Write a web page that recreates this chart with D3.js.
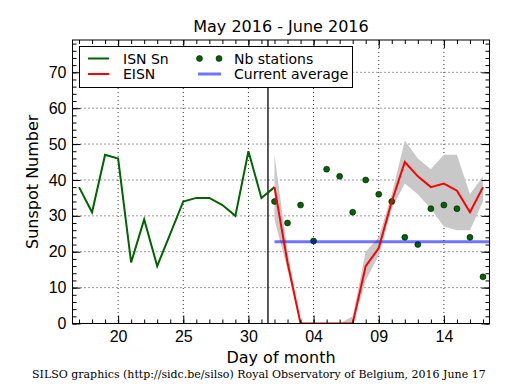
<!DOCTYPE html>
<html>
<head>
<meta charset="utf-8">
<script src="https://cdn.jsdelivr.net/npm/d3@7"></script>
<style>
  body { margin: 0; background: #fff; }
  svg { display: block; font-family: "DejaVu Sans", sans-serif; }
</style>
</head>
<body>
<svg id="chart" width="515" height="390"></svg>
<script>
// Day numbers: May = 1..31, June = 31 + day
const isnDays = [17, 18, 19, 20, 21, 22, 23, 24, 25, 26, 27, 28, 29, 30, 31, 32];
const isnValues = [38, 31, 47, 46, 17, 29, 16, 25, 34, 35, 35, 33, 30, 48, 35, 38];

const eisnDays = [32, 33, 34, 35, 36, 37, 38, 39, 40, 41, 42, 43, 44, 45, 46, 47, 48];
const eisnValues = [38, 17, 0, 0, 0, 0, 0, 16, 21, 34, 45, 41, 38, 39, 37, 31, 38];
const eisnUpper = [47, 20, 0, 0, 0, 0, 2, 20, 24, 36, 51, 46, 43, 47, 47, 36, 41];
const eisnLower = [29, 15, 0, 0, 0, 0, 0, 12, 19, 32, 39, 36, 32, 27, 26, 26, 34];
const stationValues = [34, 28, 33, 23, 43, 41, 31, 40, 36, 34, 24, 22, 32, 33, 32, 24, 13];

const currentAverage = 22.8;
const averageRange = [32, 48.5];
const monthSplit = 31.5;

const xTicks = [20, 25, 30, 35, 40, 45];
const xTickLabels = ["20", "25", "30", "04", "09", "14"];
const yTicks = [0, 10, 20, 30, 40, 50, 60, 70];

const width = 515, height = 390;
const plotLeft = 72.5, plotRight = 489.5, plotTop = 40, plotBottom = 323.5;

const svg = d3.select("#chart");

const x = d3.scaleLinear().domain([16.5, 48.5]).range([plotLeft, plotRight]);
const y = d3.scaleLinear().domain([0, 79]).range([plotBottom, plotTop]);

const plot = svg.append("g");
plot.append("defs").append("clipPath").attr("id", "clip")
    .append("rect").attr("x", plotLeft).attr("y", plotTop)
    .attr("width", plotRight - plotLeft).attr("height", plotBottom - plotTop);

// grid
const grid = plot.append("g").attr("stroke", "#000").attr("stroke-width", 0.8).attr("stroke-dasharray", "1,3");
grid.selectAll("line.gx").data(xTicks).join("line").attr("class", "gx")
    .attr("x1", d => x(d)).attr("x2", d => x(d)).attr("y1", plotTop).attr("y2", plotBottom);
grid.selectAll("line.gy").data(yTicks.filter(d => d > 0)).join("line").attr("class", "gy")
    .attr("x1", plotLeft).attr("x2", plotRight).attr("y1", d => y(d)).attr("y2", d => y(d));

const data = plot.append("g").attr("clip-path", "url(#clip)");

// uncertainty band
const band = eisnDays.map((d, i) => ({ d, lo: eisnLower[i], hi: eisnUpper[i] }));
data.append("path").datum(band)
    .attr("fill", "#c8c8c8")
    .attr("d", d3.area().x(p => x(p.d)).y0(p => y(p.lo)).y1(p => y(p.hi)));

// month split line
data.append("line")
    .attr("x1", x(monthSplit)).attr("x2", x(monthSplit)).attr("y1", plotTop).attr("y2", plotBottom)
    .attr("stroke", "#000").attr("stroke-width", 1.3);

// ISN line
data.append("path").datum(isnDays.map((d, i) => [d, isnValues[i]]))
    .attr("fill", "none").attr("stroke", "#006400").attr("stroke-width", 2)
    .attr("d", d3.line().x(p => x(p[0])).y(p => y(p[1])));

// station dots
data.selectAll("circle.st").data(eisnDays.map((d, i) => [d, stationValues[i]])).join("circle")
    .attr("class", "st")
    .attr("cx", p => x(p[0])).attr("cy", p => y(p[1])).attr("r", 3)
    .attr("fill", "#006400").attr("stroke", "#000").attr("stroke-width", 0.5);

// current average
data.append("line")
    .attr("x1", x(averageRange[0])).attr("x2", x(averageRange[1]))
    .attr("y1", y(currentAverage)).attr("y2", y(currentAverage))
    .attr("stroke", "blue").attr("stroke-opacity", 0.55).attr("stroke-width", 3);

// EISN line
data.append("path").datum(eisnDays.map((d, i) => [d, eisnValues[i]]))
    .attr("fill", "none").attr("stroke", "red").attr("stroke-width", 2)
    .attr("d", d3.line().x(p => x(p[0])).y(p => y(p[1])));

// axes, ticks pointing inward
const minorX = d3.range(17, 49);
const minorY = d3.range(0, 79, 2);
function styleAxis(g) {
    g.select(".domain").remove();
    g.selectAll("line").attr("stroke", "#000");
    g.selectAll("text").attr("font-size", 16).attr("fill", "#000");
}
plot.append("g").attr("transform", `translate(0,${plotBottom})`)
    .call(d3.axisBottom(x).tickValues(minorX).tickSize(-4).tickFormat(""))
    .call(styleAxis);
plot.append("g").attr("transform", `translate(0,${plotBottom})`)
    .call(d3.axisBottom(x).tickValues(xTicks).tickSize(-8).tickPadding(7)
        .tickFormat((d, i) => xTickLabels[i]))
    .call(styleAxis);
plot.append("g").attr("transform", `translate(0,${plotTop})`)
    .call(d3.axisTop(x).tickValues(minorX).tickSize(-4).tickFormat(""))
    .call(styleAxis);
plot.append("g").attr("transform", `translate(0,${plotTop})`)
    .call(d3.axisTop(x).tickValues(xTicks).tickSize(-8).tickFormat(""))
    .call(styleAxis);
plot.append("g").attr("transform", `translate(${plotLeft},0)`)
    .call(d3.axisLeft(y).tickValues(minorY).tickSize(-4).tickFormat(""))
    .call(styleAxis);
plot.append("g").attr("transform", `translate(${plotLeft},0)`)
    .call(d3.axisLeft(y).tickValues(yTicks).tickSize(-8).tickPadding(6))
    .call(styleAxis);
plot.append("g").attr("transform", `translate(${plotRight},0)`)
    .call(d3.axisRight(y).tickValues(minorY).tickSize(-4).tickFormat(""))
    .call(styleAxis);
plot.append("g").attr("transform", `translate(${plotRight},0)`)
    .call(d3.axisRight(y).tickValues(yTicks).tickSize(-8).tickFormat(""))
    .call(styleAxis);

plot.append("rect")
    .attr("x", plotLeft).attr("y", plotTop)
    .attr("width", plotRight - plotLeft).attr("height", plotBottom - plotTop)
    .attr("fill", "none").attr("stroke", "#000").attr("stroke-width", 1);

// legend
const legend = svg.append("g");
legend.append("rect").attr("x", 79.5).attr("y", 46.5).attr("width", 273).attr("height", 41)
    .attr("fill", "#fff").attr("stroke", "#000").attr("stroke-width", 1);
const legendItems = [
    { label: "ISN Sn", kind: "line", color: "#006400", col: 0, row: 0 },
    { label: "EISN", kind: "line", color: "red", col: 0, row: 1 },
    { label: "Nb stations", kind: "dots", color: "#006400", col: 1, row: 0 },
    { label: "Current average", kind: "avg", color: "blue", col: 1, row: 1 }
];
const colX = [88, 198], rowY = [58.5, 74];
legendItems.forEach(it => {
    const lx = colX[it.col], ly = rowY[it.row];
    if (it.kind === "line") {
        legend.append("line").attr("x1", lx).attr("x2", lx + 21).attr("y1", ly).attr("y2", ly)
            .attr("stroke", it.color).attr("stroke-width", 2);
    } else if (it.kind === "dots") {
        [lx + 1.5, lx + 21].forEach(cx => legend.append("circle").attr("cx", cx).attr("cy", ly).attr("r", 3)
            .attr("fill", it.color).attr("stroke", "#000").attr("stroke-width", 0.5));
    } else {
        legend.append("line").attr("x1", lx).attr("x2", lx + 23).attr("y1", ly).attr("y2", ly)
            .attr("stroke", it.color).attr("stroke-opacity", 0.55).attr("stroke-width", 3);
    }
    legend.append("text").attr("x", lx + (it.col === 0 ? 35 : 36)).attr("y", ly + 5)
        .attr("font-size", 14).text(it.label);
});

// titles
svg.append("text").attr("x", (plotLeft + plotRight) / 2).attr("y", 32).attr("text-anchor", "middle")
    .attr("font-size", 16).text("May 2016 - June 2016");
svg.append("text").attr("x", (plotLeft + plotRight) / 2).attr("y", 363).attr("text-anchor", "middle")
    .attr("font-size", 16).text("Day of month");
svg.append("text").attr("transform", `translate(38,${(plotTop + plotBottom) / 2}) rotate(-90)`)
    .attr("text-anchor", "middle").attr("font-size", 16).text("Sunspot Number");
svg.append("text").attr("x", 32).attr("y", 378).attr("font-family", "DejaVu Serif, serif")
    .attr("font-size", 11).text("SILSO graphics (http://sidc.be/silso) Royal Observatory of Belgium, 2016 June 17");
</script>
</body>
</html>
